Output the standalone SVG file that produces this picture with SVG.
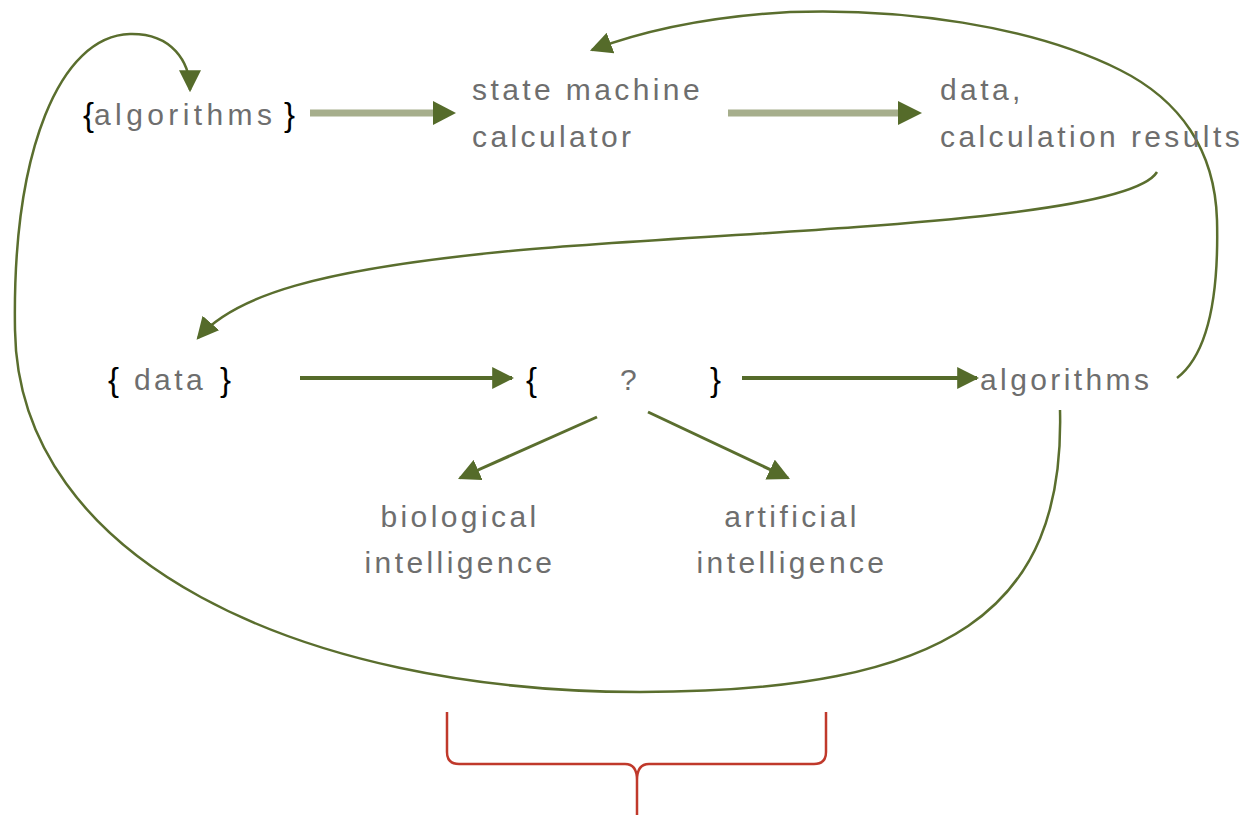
<svg xmlns="http://www.w3.org/2000/svg" width="1242" height="816" viewBox="0 0 1242 816">
<style>
text{font-family:"Liberation Sans",Arial,sans-serif;font-size:30px;fill:#6e6e6e;letter-spacing:3.4px}
.br{fill:#000;letter-spacing:0;font-size:33px;font-weight:300}
.c{fill:none;stroke:#5a6e2e;stroke-width:2.5}
.thick{fill:none;stroke:#a6ae8c;stroke-width:7}
.mid{fill:none;stroke:#556b2a;stroke-width:4}
.thin{fill:none;stroke:#5a6e2e;stroke-width:3}
</style>
<defs>
<marker id="a" viewBox="0 0 10 10" refX="9" refY="5" markerWidth="22" markerHeight="22" markerUnits="userSpaceOnUse" orient="auto">
<path d="M0,0 L10,5 L0,10 z" fill="#556b2a"/>
</marker>
</defs>
<g id="connectors">
<path class="thick" d="M310,113 L438,113"/>
<path d="M433,101 L456,113 L433,125 z" fill="#556b2a"/>
<path class="thick" d="M728,113 L903,113"/>
<path d="M898,101 L922,113 L898,125 z" fill="#556b2a"/>
<path class="c" marker-end="url(#a)" d="M1177,378 C1207,355 1219,300 1217,220 C1215,150 1180,100 1120,70 C1030,25 900,8 790,12 C700,17 640,32 592,50"/>
<path class="c" marker-end="url(#a)" d="M1157,172 C1125,225 700,232 500,252 C320,270 235,295 198,338"/>
<path class="c" marker-end="url(#a)" d="M1060,410 C1065,610 950,692 640,692 C300,692 18,560 15,330 C12,150 60,36 130,34 C172,33 190,62 190,90"/>
<path class="mid" marker-end="url(#a)" d="M300,378 L512,378"/>
<path class="mid" marker-end="url(#a)" d="M742,378 L977,378"/>
<path class="thin" marker-end="url(#a)" d="M597,417 L460,478"/>
<path class="thin" marker-end="url(#a)" d="M648,412 L788,478"/>
</g>
<g id="n-algorithms-set"><text x="83" y="126" class="br">{</text><text x="94" y="125" style="letter-spacing:4.4px">algorithms</text><text x="284" y="126" class="br">}</text></g>
<g id="n-calculator"><text x="472" y="100">state machine</text><text x="472" y="147">calculator</text></g>
<g id="n-results"><text x="940" y="100">data,</text><text x="940" y="147">calculation results</text></g>
<g id="n-data-set"><text x="108" y="391" class="br">{</text><text x="134" y="390">data</text><text x="220" y="391" class="br">}</text></g>
<g id="n-unknown"><text x="526" y="391" class="br">{</text><text x="620" y="390">?</text><text x="710" y="391" class="br">}</text></g>
<g id="n-algorithms"><text x="980" y="390">algorithms</text></g>
<g id="n-bio"><text x="460" y="527" text-anchor="middle">biological</text><text x="460" y="573" text-anchor="middle">intelligence</text></g>
<g id="n-art"><text x="792" y="527" text-anchor="middle">artificial</text><text x="792" y="573" text-anchor="middle">intelligence</text></g>
<g id="brace"><path d="M447,712 L447,752 Q447,764 459,764 L625,764 Q637,764 637,780 L637,815 M826,712 L826,752 Q826,764 814,764 L649,764 Q637,764 637,780" fill="none" stroke="#c0392b" stroke-width="2.5"/></g>
</svg>
